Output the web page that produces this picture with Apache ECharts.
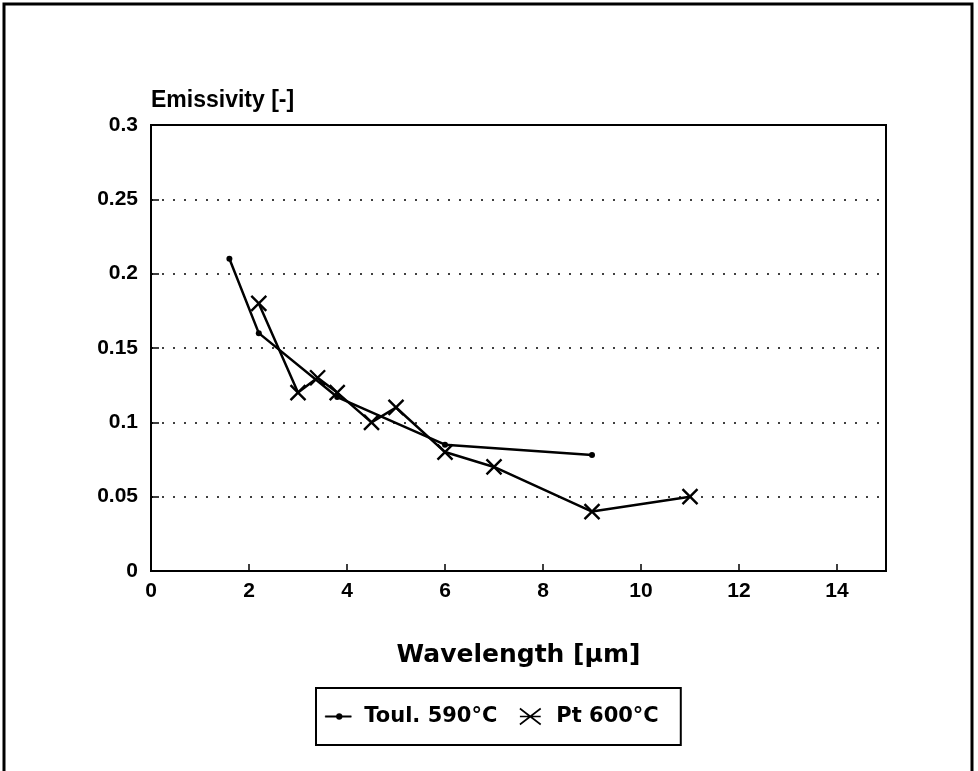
<!DOCTYPE html>
<html>
<head>
<meta charset="utf-8">
<script src="https://cdn.jsdelivr.net/npm/echarts@6/dist/echarts.min.js"></script>
<style>
html,body{margin:0;padding:0;background:#fff;}
#chart{width:978px;height:771px;}
</style>
</head>
<body>
<div id="chart"></div>
<script>
// Data
var toulX = [1.6, 2.2, 3.8, 6.0, 9.0];
var toulY = [0.21, 0.16, 0.117, 0.085, 0.078];
var ptX = [2.2, 3.0, 3.4, 3.8, 4.5, 5.0, 6.0, 7.0, 9.0, 11.0];
var ptY = [0.18, 0.12, 0.13, 0.12, 0.10, 0.11, 0.08, 0.07, 0.04, 0.05];
var seriesNames = ['Toul. 590°C', 'Pt 600°C'];
var xAxisName = 'Wavelength [µm]';
var yAxisName = 'Emissivity [-]';

function pairs(xs, ys) { return xs.map(function (x, i) { return [x, ys[i]]; }); }

var FONT = 'DejaVu Sans';
var FONT2 = '"Liberation Sans", Arial, sans-serif';
var chart = echarts.init(document.getElementById('chart'), null, {renderer: 'canvas'});
var xMark = 'path://M0,0L10,10M10,0L0,10';
var star = 'path://M0,0L13,10M13,0L0,10M0,5L13,5';
var lineDot = 'path://M0,4.3L26,4.3L26,5.7L0,5.7Z M11,5A3,3 0 1 1 17,5A3,3 0 1 1 11,5Z';

chart.setOption({
  backgroundColor: '#fff',
  animation: false,
  graphic: [{
    type: 'rect', shape: {x: 4, y: 4, width: 968, height: 800},
    style: {fill: 'none', stroke: '#000', lineWidth: 3}, silent: true
  }],
  grid: {left: 151, right: 92, top: 125, bottom: 200, show: true,
         borderColor: '#000', borderWidth: 2, backgroundColor: 'transparent'},
  legend: {
    left: 316, top: 688,
    orient: 'horizontal',
    borderColor: '#000', borderWidth: 2, borderRadius: 0,
    padding: [18, 22, 18, 9],
    itemGap: 20, itemWidth: 26, itemHeight: 16,
    textStyle: {fontFamily: FONT, fontWeight: 'bold', fontSize: 21, color: '#000', padding: [0, 0, 0, 8]},
    data: [
      {name: seriesNames[0], icon: lineDot, itemStyle: {color: '#000', borderColor: '#000', borderWidth: 0.5}},
      {name: seriesNames[1], icon: star, itemStyle: {color: 'none', borderColor: '#000', borderWidth: 1.6}}
    ]
  },
  xAxis: {
    type: 'value', min: 0, max: 15, interval: 2,
    name: xAxisName, nameLocation: 'middle', nameGap: 72,
    nameTextStyle: {fontFamily: FONT, fontWeight: 'bold', fontSize: 25, color: '#000'},
    axisLine: {show: true, lineStyle: {color: '#000', width: 2}},
    axisTick: {show: true, inside: true, length: 7, lineStyle: {color: '#000', width: 1.5}},
    axisLabel: {fontFamily: FONT2, fontWeight: 'bold', fontSize: 21, color: '#000', margin: 10,
                formatter: function (v) { return v === 15 ? '' : String(v); }},
    splitLine: {show: false}
  },
  yAxis: {
    type: 'value', min: 0, max: 0.3, interval: 0.05,
    name: yAxisName, nameLocation: 'end', nameGap: 13,
    nameTextStyle: {fontFamily: FONT2, fontWeight: 'bold', fontSize: 23, color: '#000', align: 'left', verticalAlign: 'bottom'},
    axisLine: {show: true, lineStyle: {color: '#000', width: 2}},
    axisTick: {show: true, inside: true, length: 8, lineStyle: {color: '#000', width: 1.5}},
    axisLabel: {fontFamily: FONT2, fontWeight: 'bold', fontSize: 21, color: '#000', margin: 13},
    splitLine: {show: true, lineStyle: {color: '#000', width: 1.5, type: [2, 9]}}
  },
  series: [
    {
      name: seriesNames[0], type: 'line', data: pairs(toulX, toulY),
      symbol: 'circle', symbolSize: 6, showSymbol: true,
      lineStyle: {color: '#000', width: 2.5},
      itemStyle: {color: '#000'}
    },
    {
      name: seriesNames[1], type: 'line', data: pairs(ptX, ptY),
      symbol: xMark, symbolSize: 15,
      lineStyle: {color: '#000', width: 2.5},
      itemStyle: {color: '#000', borderColor: '#000', borderWidth: 2.4}
    }
  ]
});
</script>
</body>
</html>
